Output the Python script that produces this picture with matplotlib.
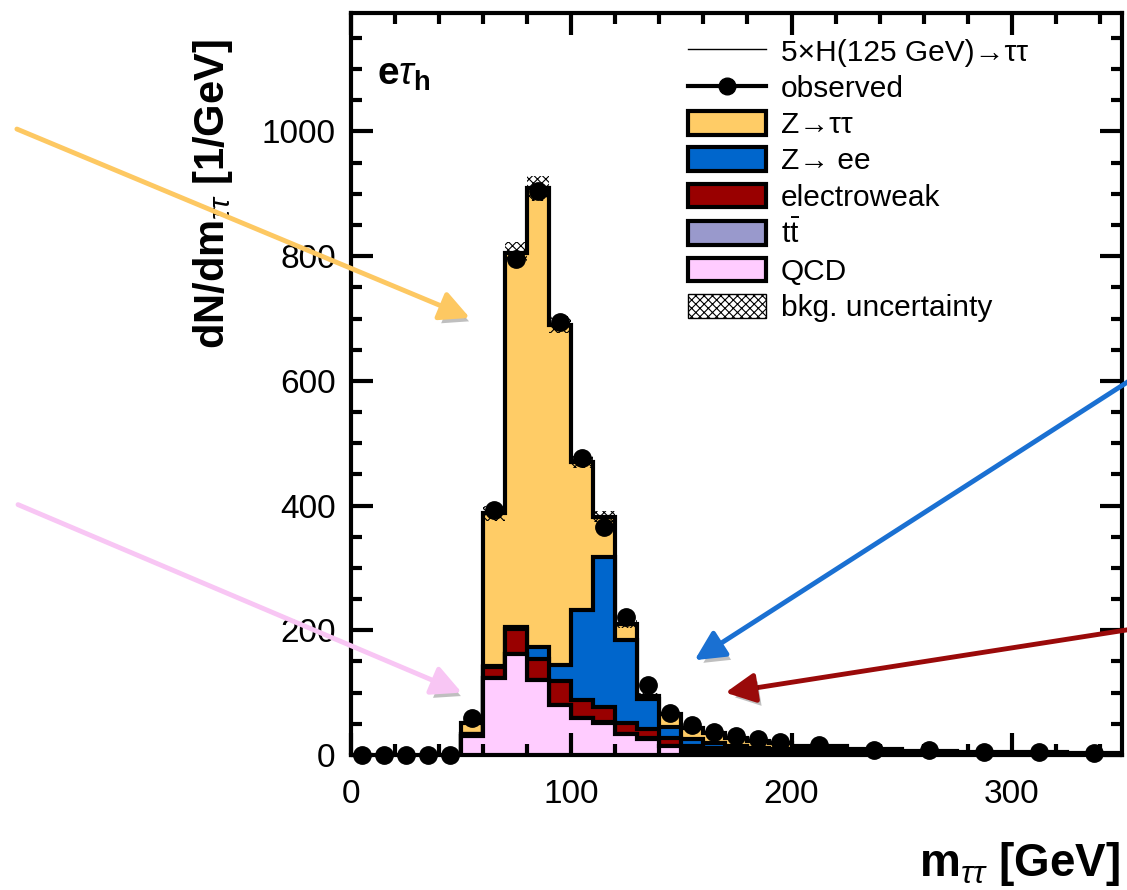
import numpy as np
import matplotlib
matplotlib.use("Agg")
import matplotlib.pyplot as plt
import matplotlib.patheffects as pe
from matplotlib.lines import Line2D
from matplotlib.patches import Patch
from matplotlib.ticker import MultipleLocator

plt.rcParams['font.family'] = ['Liberation Sans', 'DejaVu Sans']
plt.rcParams['mathtext.fontset'] = 'custom'
plt.rcParams['mathtext.rm'] = 'Liberation Sans'
plt.rcParams['mathtext.it'] = 'Liberation Sans:italic'
plt.rcParams['mathtext.bf'] = 'Liberation Sans:bold'
plt.rcParams['hatch.linewidth'] = 0.8

# m_tautau binning (GeV) for the simulated backgrounds
edges = np.array([50, 60, 70, 80, 90, 100, 110, 120, 130, 140, 150, 160,
                  170, 180, 190, 200, 225, 250, 275, 300, 325, 350])

# background yields, dN/dm [1/GeV]
qcd = np.array([30, 124, 162, 120, 80, 59, 52, 33, 26, 14, 7, 5, 4, 3,
                2.5, 2, 1, 0.8, 0.5, 0.4, 0.3])
ttbar = np.array([0, 0, 0.5, 0.5, 0.5, 0.5, 0.5, 0.5, 0.5, 0.5, 0.5, 0.5,
                  0.5, 0.5, 0.5, 0.5, 0.3, 0.3, 0.2, 0.2, 0.1])
ewk = np.array([3, 17, 39.5, 33.5, 38.5, 28.5, 24.5, 18.5, 15.5, 13.5,
                6.5, 5.5, 4.5, 3.5, 3, 2.5, 1.7, 1.2, 0.8, 0.6, 0.5])
zee = np.array([0, 2, 3, 19, 25, 145, 240, 133, 48, 17, 12, 8, 6, 5, 4,
                3, 2, 1.5, 1, 0.8, 0.6])
ztt = np.array([19, 245, 600, 736, 546, 237, 65, 25, 5, 20, 18, 16, 13,
                11, 9, 6, 4, 3, 2.5, 2, 1.5])
bkg_unc = np.array([3, 12, 18, 20, 14, 10, 9, 6, 4, 3, 2, 1.5, 1.2, 1,
                    0.8, 0.6, 0.4, 0.3, 0.2, 0.2, 0.1])

# observed data, dN/dm [1/GeV]
obs_edges = np.concatenate([[0, 10, 20, 30, 40], edges])
observed = np.array([0, 0, 0, 0, 0, 59, 393, 795, 904, 695, 476, 366, 222,
                     112, 67, 48, 37, 30, 26, 21, 16, 8, 8, 5, 5, 3])

layers = [
    ('QCD', qcd, '#FFCCFF'),
    (r'$\mathrm{t\bar{t}}$', ttbar, '#9999CC'),
    ('electroweak', ewk, '#990000'),
    ('Z→ ee', zee, '#0066CC'),
    ('Z→ττ', ztt, '#FFCC66'),
]

fig = plt.figure(figsize=(11.27, 8.9), dpi=100)
ax = fig.add_axes([0.3114, 0.1517, 0.6841, 0.8337])

# stacked histogram, drawn from the top layer down
cum = np.cumsum([l[1] for l in layers], axis=0)
for i in reversed(range(len(layers))):
    ax.stairs(cum[i], edges, baseline=0, fill=True,
              facecolor=layers[i][2], edgecolor='black', linewidth=3, zorder=1)

total = cum[-1]
ax.stairs(total + bkg_unc, edges, baseline=total - bkg_unc, fill=True,
          facecolor='none', edgecolor='black', hatch='xxxx', linewidth=0,
          zorder=1.5)

centers = 0.5 * (obs_edges[:-1] + obs_edges[1:])
ax.plot(centers, observed, 'o', color='black', markersize=12.5, zorder=4,
        clip_on=False)

ax.set_xlim(0, 350)
ax.set_ylim(0, 1190)
ax.xaxis.set_major_locator(MultipleLocator(100))
ax.xaxis.set_minor_locator(MultipleLocator(20))
ax.yaxis.set_major_locator(MultipleLocator(200))
ax.yaxis.set_minor_locator(MultipleLocator(50))
ax.tick_params(which='both', direction='in', top=True, right=True,
               width=3, labelsize=24)
ax.tick_params(which='major', length=16)
ax.tick_params(which='minor', length=8)
ax.tick_params(axis='y', pad=11)
ax.tick_params(axis='x', pad=17)
for s in ax.spines.values():
    s.set_linewidth(3)

ax.set_xlabel(r'm$_{\tau\tau}$ [GeV]', fontsize=33, fontweight='bold')
ax.xaxis.set_label_coords(0.997, -0.115)
ax.xaxis.label.set_ha('right')
ax.set_ylabel(r'dN/dm$_{\tau\tau}$ [1/GeV]', fontsize=30, fontweight='bold')
ax.yaxis.set_label_coords(-0.15, 0.964)
ax.yaxis.label.set_ha('right')

ax.text(0.034, 0.903, r'$\mathbf{e}\tau_{\mathbf{h}}$', transform=ax.transAxes,
        fontsize=28, va='baseline')

handles = [Line2D([], [], color='black', lw=1),
           Line2D([], [], color='black', lw=3, marker='o', markersize=12)]
labels = ['5×H(125 GeV)→ττ', 'observed']
for name, _, color in reversed(layers):
    handles.append(Patch(facecolor=color, edgecolor='black', linewidth=3))
    labels.append(name)
handles.append(Patch(facecolor='white', edgecolor='black', hatch='xxxx',
                     linewidth=1))
labels.append('bkg. uncertainty')
ax.legend(handles, labels, loc='upper left', bbox_to_anchor=(0.6105, 0.957),
          bbox_transform=fig.transFigure, frameon=False, fontsize=21.5,
          handlelength=2.6, handleheight=0.85, handletextpad=0.5,
          labelspacing=0.27, borderpad=0, borderaxespad=0)

# pointer arrows from the margins to the background components
arrows = [
    ((54, 701), (0.015, 0.855), '#FDC862'),
    ((50.3, 100), (0.016, 0.433), '#F8C6F4'),
    ((156, 152), (1.029, 0.594), '#1A70D2'),
    ((170, 100), (1.029, 0.298), '#9A0A0A'),
]
for tip, tail, color in arrows:
    ax.annotate('', xy=tip, xycoords='data', xytext=tail,
                textcoords='figure fraction', annotation_clip=False,
                arrowprops=dict(arrowstyle='-|>,head_length=0.9,head_width=0.45',
                                color=color, lw=3.5, mutation_scale=20,
                                shrinkA=0, shrinkB=0,
                                path_effects=[pe.withSimplePatchShadow(
                                    offset=(3, -4), shadow_rgbFace='black',
                                    alpha=0.25)]))

fig.savefig('out.png', dpi=100)
